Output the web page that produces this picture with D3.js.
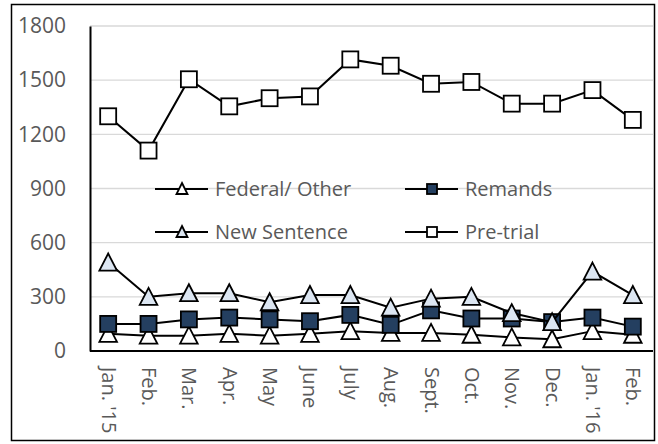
<!DOCTYPE html>
<html>
<head>
<meta charset="utf-8">
<script src="https://cdn.jsdelivr.net/npm/d3@7"></script>
<style>
  body { margin: 0; background: #fff; }
  text { font-family: "Open Sans", "Noto Sans", sans-serif; fill: #595959; }
</style>
</head>
<body>
<svg id="chart" width="658" height="444"></svg>
<script>
// data
var months = ["Jan. '15", "Feb.", "Mar.", "Apr.", "May", "June", "July", "Aug.", "Sept.", "Oct.", "Nov.", "Dec.", "Jan. '16", "Feb."];
var federalOther = [95, 85, 85, 95, 85, 95, 110, 100, 100, 90, 75, 65, 110, 90];
var remands = [150, 150, 175, 185, 175, 165, 200, 145, 225, 180, 180, 160, 185, 135];
var newSentence = [490, 300, 320, 320, 270, 310, 310, 240, 290, 300, 210, 160, 440, 310];
var preTrial = [1300, 1110, 1505, 1355, 1400, 1410, 1615, 1580, 1480, 1490, 1370, 1370, 1445, 1280];
var yTicks = [0, 300, 600, 900, 1200, 1500, 1800];

var series = [
  { name: "Federal/ Other", values: federalOther, shape: "tri", fill: "#ffffff" },
  { name: "Remands", values: remands, shape: "sq", fill: "#243f60" },
  { name: "New Sentence", values: newSentence, shape: "tri", fill: "#dce6f2" },
  { name: "Pre-trial", values: preTrial, shape: "sq", fill: "#ffffff" }
];

var svg = d3.select("#chart");
var plotL = 90, plotR = 653, plotT = 26, plotB = 351;

svg.append("rect")
  .attr("x", 11.5).attr("y", 4.5).attr("width", 643).attr("height", 436)
  .attr("fill", "#fff").attr("stroke", "#000").attr("stroke-width", 1.5);

var x = d3.scalePoint().domain(d3.range(months.length)).range([88, plotR]).padding(0.5);
var y = d3.scaleLinear().domain([0, 1800]).range([plotB, plotT]);

// gridlines
svg.append("g").selectAll("line").data(yTicks.slice(1)).enter().append("line")
  .attr("x1", plotL).attr("x2", plotR)
  .attr("y1", function(d) { return y(d); }).attr("y2", function(d) { return y(d); })
  .attr("stroke", "#d9d9d9").attr("stroke-width", 1.3);

// y axis
var yAxis = svg.append("g").attr("transform", "translate(" + plotL + ",0)")
  .call(d3.axisLeft(y).tickValues(yTicks).tickSize(0).tickPadding(24).tickFormat(d3.format("d")));
yAxis.select(".domain").attr("stroke", "#000").attr("stroke-width", 2);
yAxis.selectAll("text").style("font-size", "21px").attr("fill", "#595959");

// x axis
var xAxis = svg.append("g").attr("transform", "translate(0," + plotB + ")")
  .call(d3.axisBottom(x).tickSize(0).tickFormat(function(i) { return months[i]; }));
xAxis.select(".domain").attr("d", "M" + plotL + ",0H" + plotR).attr("stroke", "#000").attr("stroke-width", 2);
xAxis.selectAll("text")
  .style("font-size", "20px").attr("fill", "#595959")
  .attr("text-anchor", "start").attr("dy", "0.35em")
  .attr("transform", "translate(0,16) rotate(90)")
  .attr("x", 0).attr("y", 0);

var line = d3.line()
  .x(function(d, i) { return x(i); })
  .y(function(d) { return y(d); });

function marker(g, shape, fill, size) {
  if (shape === "sq") {
    g.append("rect").attr("x", -size / 2).attr("y", -size / 2)
      .attr("width", size).attr("height", size)
      .attr("fill", fill).attr("stroke", "#000").attr("stroke-width", 1.8);
  } else {
    var w = size * 1.1, h = size;
    g.append("path")
      .attr("d", "M0," + (-h / 2 - 1) + "L" + (w / 2) + "," + (h / 2) + "L" + (-w / 2) + "," + (h / 2) + "Z")
      .attr("fill", fill).attr("stroke", "#000").attr("stroke-width", 1.8)
      .attr("stroke-linejoin", "miter");
  }
}

series.forEach(function(s) {
  var g = svg.append("g");
  g.append("path").datum(s.values)
    .attr("d", line).attr("fill", "none").attr("stroke", "#000").attr("stroke-width", 2);
  g.selectAll("g.pt").data(s.values).enter().append("g")
    .attr("class", "pt")
    .attr("transform", function(d, i) { return "translate(" + x(i) + "," + y(d) + ")"; })
    .each(function() { marker(d3.select(this), s.shape, s.fill, 16); });
});

// legend
var legendPos = [[155, 189], [405, 189], [155, 232], [405, 232]];
series.forEach(function(s, i) {
  var g = svg.append("g").attr("transform", "translate(" + legendPos[i][0] + "," + legendPos[i][1] + ")");
  g.append("line").attr("x1", 0).attr("x2", 53).attr("stroke", "#000").attr("stroke-width", 2);
  var m = g.append("g").attr("transform", "translate(27,0)");
  marker(m, s.shape, s.fill, 10);
  g.append("text").attr("x", 60).attr("dy", "0.35em").style("font-size", "20px").text(s.name);
});
</script>
</body>
</html>
